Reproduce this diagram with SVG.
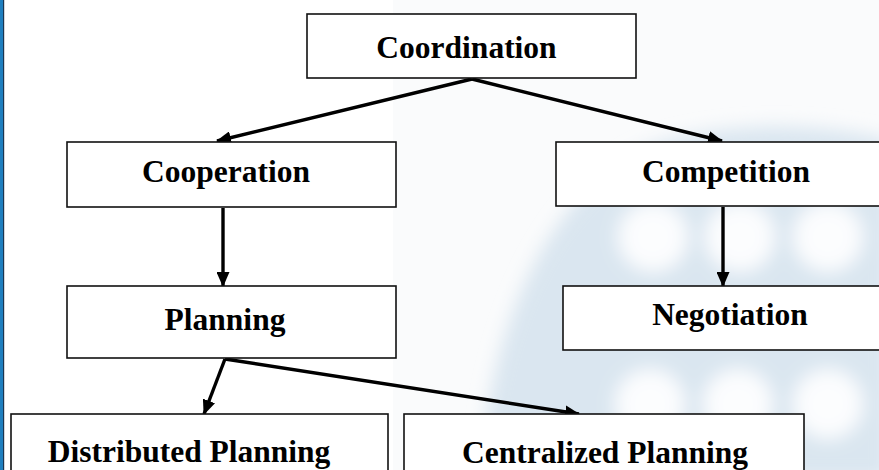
<svg xmlns="http://www.w3.org/2000/svg" width="879" height="470" viewBox="0 0 879 470">
<style>
.box{fill:#ffffff;stroke:#111111;stroke-width:1.6}
.lbl{font-family:"Liberation Serif","Times New Roman",serif;font-weight:bold;font-size:31.5px;fill:#000;text-anchor:middle}
.con{stroke:#000;stroke-width:3.4;fill:none;marker-end:url(#arr)}
.hole{fill:#fcfdfe}
</style>
<defs>
<marker id="arr" markerUnits="userSpaceOnUse" markerWidth="15" markerHeight="13" refX="14" refY="6.5" orient="auto">
<path d="M0,0 L15,6.5 L0,13 Z" fill="#000"/>
</marker>
<filter id="soft" x="-20%" y="-20%" width="140%" height="140%"><feGaussianBlur stdDeviation="9"/></filter>
</defs>
<rect x="0" y="0" width="879" height="470" fill="#ffffff"/>
<rect x="393" y="0" width="486" height="470" fill="#fafbfc"/>
<g id="watermark" filter="url(#soft)">
<path d="M480,480 C488,330 545,200 640,150 C700,125 800,118 890,140 L890,480 Z" fill="#dae6f0"/>
<circle class="hole" cx="653" cy="237" r="35"/>
<circle class="hole" cx="740" cy="237" r="35"/>
<circle class="hole" cx="828" cy="237" r="35"/>
<circle class="hole" cx="650" cy="404" r="35"/>
<circle class="hole" cx="738" cy="404" r="35"/>
<circle class="hole" cx="828" cy="404" r="35"/>
</g>
<rect x="0" y="0" width="3" height="470" fill="#1f7fbf"/>
<rect x="3" y="0" width="1.2" height="470" fill="#1a3550"/>
<g id="connectors">
<line class="con" x1="472" y1="79" x2="217" y2="141"/>
<line class="con" x1="472" y1="79" x2="722" y2="141"/>
<line class="con" x1="223" y1="208" x2="223" y2="286"/>
<line class="con" x1="723" y1="207" x2="723" y2="286"/>
<line class="con" x1="225" y1="359" x2="204" y2="414"/>
<line class="con" x1="225" y1="359" x2="579" y2="414"/>
</g>
<g id="coordination"><rect class="box" x="307" y="14" width="329" height="64"/><text class="lbl" x="466.5" y="58">Coordination</text></g>
<g id="cooperation"><rect class="box" x="67" y="142" width="329" height="65"/><text class="lbl" x="226" y="182">Cooperation</text></g>
<g id="competition"><rect class="box" x="556" y="142" width="340" height="64"/><text class="lbl" x="726" y="182">Competition</text></g>
<g id="planning"><rect class="box" x="67" y="286" width="329" height="72"/><text class="lbl" x="225" y="330">Planning</text></g>
<g id="negotiation"><rect class="box" x="563" y="286" width="330" height="64"/><text class="lbl" x="730" y="325">Negotiation</text></g>
<g id="distributed"><rect class="box" x="11" y="414" width="377" height="70"/><text class="lbl" x="189" y="462">Distributed Planning</text></g>
<g id="centralized"><rect class="box" x="404" y="414" width="400" height="70"/><text class="lbl" x="605" y="463">Centralized Planning</text></g>
</svg>
